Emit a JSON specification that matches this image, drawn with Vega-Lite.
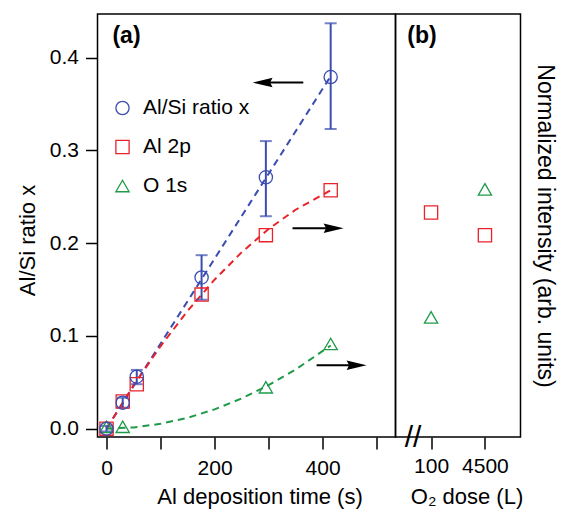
{
  "$schema": "https://vega.github.io/schema/vega-lite/v6.json",
  "padding": {"left": 15.5, "top": 13, "right": 3, "bottom": 5},
  "background": "white",
  "spacing": 0,
  "bounds": "flush",
  "config": {
    "font": "Liberation Sans",
    "view": {"stroke": "black", "strokeWidth": 1.5},
    "axis": {
      "domain": false, "grid": false,
      "tickColor": "black", "tickSize": 12, "tickWidth": 1.5,
      "labelFontSize": 21, "titleFontSize": 22,
      "labelColor": "black", "titleColor": "black",
      "titleFontWeight": "normal"
    }
  },
  "datasets": {
    "fits": [
      {"series": "Al/Si ratio x", "t": 0, "v": 0},
      {"series": "Al/Si ratio x", "t": 415, "v": 0.38},
      {"series": "Al 2p", "t": 0, "v": 0},
      {"series": "Al 2p", "t": 50, "v": 0.0466},
      {"series": "Al 2p", "t": 100, "v": 0.0888},
      {"series": "Al 2p", "t": 150, "v": 0.1268},
      {"series": "Al 2p", "t": 200, "v": 0.1606},
      {"series": "Al 2p", "t": 250, "v": 0.19},
      {"series": "Al 2p", "t": 300, "v": 0.2152},
      {"series": "Al 2p", "t": 350, "v": 0.236},
      {"series": "Al 2p", "t": 415, "v": 0.257},
      {"series": "O 1s", "t": 0, "v": 0},
      {"series": "O 1s", "t": 50, "v": 0.0013},
      {"series": "O 1s", "t": 100, "v": 0.0052},
      {"series": "O 1s", "t": 150, "v": 0.0117},
      {"series": "O 1s", "t": 200, "v": 0.0208},
      {"series": "O 1s", "t": 250, "v": 0.0325},
      {"series": "O 1s", "t": 300, "v": 0.0468},
      {"series": "O 1s", "t": 350, "v": 0.0637},
      {"series": "O 1s", "t": 415, "v": 0.0896}
    ],
    "points": [
      {"series": "O 1s", "t": 0, "v": 0.002},
      {"series": "O 1s", "t": 30, "v": 0.002},
      {"series": "O 1s", "t": 295, "v": 0.0446},
      {"series": "O 1s", "t": 415, "v": 0.0913},
      {"series": "Al 2p", "t": 0, "v": 0.0},
      {"series": "Al 2p", "t": 30, "v": 0.0293},
      {"series": "Al 2p", "t": 56, "v": 0.0479},
      {"series": "Al 2p", "t": 176, "v": 0.1445},
      {"series": "Al 2p", "t": 295, "v": 0.2086},
      {"series": "Al 2p", "t": 415, "v": 0.257},
      {"series": "Al/Si ratio x", "t": 0, "v": 0.0},
      {"series": "Al/Si ratio x", "t": 30, "v": 0.028},
      {"series": "Al/Si ratio x", "t": 56, "v": 0.056},
      {"series": "Al/Si ratio x", "t": 176, "v": 0.163},
      {"series": "Al/Si ratio x", "t": 295, "v": 0.271},
      {"series": "Al/Si ratio x", "t": 415, "v": 0.379}
    ],
    "errors": [
      {"t": 0, "lo": -0.003, "hi": 0.003},
      {"t": 30, "lo": 0.0226, "hi": 0.0334},
      {"t": 56, "lo": 0.0479, "hi": 0.0633},
      {"t": 176, "lo": 0.139, "hi": 0.187},
      {"t": 295, "lo": 0.229, "hi": 0.31},
      {"t": 415, "lo": 0.323, "hi": 0.437}
    ],
    "arrows": [
      {"dir": "left", "t": 288.9, "t2": 364.3, "v": 0.3731},
      {"dir": "right", "t": 420.4, "t2": 344.4, "v": 0.2161},
      {"dir": "right", "t": 463, "t2": 388.9, "v": 0.0684}
    ],
    "panelA": [{"label": "(a)", "t": 37, "v": 0.4234}],
    "doses": [
      {"series": "Al 2p", "dose": "100", "v": 0.233},
      {"series": "Al 2p", "dose": "4500", "v": 0.2085},
      {"series": "O 1s", "dose": "100", "v": 0.12},
      {"series": "O 1s", "dose": "4500", "v": 0.258}
    ],
    "panelB": [{"label": "(b)", "dose": "100", "v": 0.4234}],
    "breakmark": [{"label": "//", "dose": "100", "v": -0.0095}]
  },
  "hconcat": [
    {
      "width": 298,
      "height": 423,
      "encoding": {
        "x": {
          "field": "t", "type": "quantitative",
          "scale": {"domain": [-16.7, 535], "nice": false, "zero": false},
          "axis": {
            "title": "Al deposition time (s)",
            "values": [0, 100, 200, 300, 400, 500],
            "format": "d",
            "labelExpr": "datum.value % 200 === 0 ? datum.label : ''",
            "labelPadding": 8, "titlePadding": 8, "titleX": 162
          }
        },
        "y": {
          "field": "v", "type": "quantitative",
          "scale": {"domain": [-0.009, 0.447], "nice": false, "zero": false},
          "axis": {
            "title": "Al/Si ratio x",
            "values": [0, 0.1, 0.2, 0.3, 0.4],
            "format": ".1f",
            "labelPadding": 7, "titlePadding": 10, "titleY": 226
          }
        }
      },
      "layer": [
        {
          "data": {"name": "fits"},
          "transform": [{"filter": "datum.series === 'Al/Si ratio x'"}],
          "mark": {"type": "line", "strokeDash": [7, 5], "strokeWidth": 2, "color": "#3b4db1"}
        },
        {
          "data": {"name": "fits"},
          "transform": [{"filter": "datum.series === 'Al 2p'"}],
          "mark": {"type": "line", "strokeDash": [7, 5], "strokeWidth": 2, "color": "#e8232a"}
        },
        {
          "data": {"name": "fits"},
          "transform": [{"filter": "datum.series === 'O 1s'"}],
          "mark": {"type": "line", "strokeDash": [7, 5], "strokeWidth": 2, "color": "#1e9a48"}
        },
        {
          "data": {"name": "errors"},
          "mark": {"type": "errorbar", "color": "#3b4db1", "thickness": 2, "ticks": {"size": 12, "thickness": 2}},
          "encoding": {
            "y": {"field": "lo", "type": "quantitative", "title": "Al/Si ratio x"},
            "y2": {"field": "hi"}
          }
        },
        {
          "data": {"name": "points"},
          "mark": {"type": "point", "filled": false, "strokeWidth": 1.3, "opacity": 1},
          "encoding": {
            "color": {
              "field": "series", "type": "nominal",
              "scale": {"domain": ["Al/Si ratio x", "Al 2p", "O 1s"], "range": ["#3b4db1", "#e8232a", "#1e9a48"]},
              "legend": {"orient": "none", "legendX": 14.5, "legendY": 83.5, "title": null, "labelFontSize": 21, "labelColor": "black", "labelOffset": 10, "rowPadding": 17, "symbolStrokeWidth": 1.3}
            },
            "shape": {
              "field": "series", "type": "nominal",
              "scale": {"domain": ["Al/Si ratio x", "Al 2p", "O 1s"], "range": ["circle", "square", "triangle-up"]},
              "legend": {"orient": "none", "legendX": 14.5, "legendY": 83.5, "title": null, "labelFontSize": 21, "labelColor": "black", "labelOffset": 10, "rowPadding": 17, "symbolStrokeWidth": 1.3}
            },
            "size": {
              "field": "series", "type": "nominal",
              "scale": {"domain": ["Al/Si ratio x", "Al 2p", "O 1s"], "range": [175, 175, 230]},
              "legend": {"orient": "none", "legendX": 14.5, "legendY": 83.5, "title": null, "labelFontSize": 21, "labelColor": "black", "labelOffset": 10, "rowPadding": 17, "symbolStrokeWidth": 1.3}
            }
          }
        },
        {
          "data": {"name": "arrows"},
          "mark": {"type": "rule", "color": "black", "strokeWidth": 2},
          "encoding": {
            "x2": {"field": "t2"}
          }
        },
        {
          "data": {"name": "arrows"},
          "transform": [{"filter": "datum.dir === 'left'"}],
          "mark": {"type": "point", "filled": true, "color": "black", "opacity": 1, "size": 400, "shape": "M -1 0 L 1 -0.47 L 0.75 0 L 1 0.47 Z"}
        },
        {
          "data": {"name": "arrows"},
          "transform": [{"filter": "datum.dir === 'right'"}],
          "mark": {"type": "point", "filled": true, "color": "black", "opacity": 1, "size": 400, "shape": "M 1 0 L -1 -0.47 L -0.75 0 L -1 0.47 Z"}
        },
        {
          "data": {"name": "panelA"},
          "mark": {"type": "text", "fontSize": 23, "fontWeight": "bold", "align": "center", "baseline": "middle", "color": "black"},
          "encoding": {
            "text": {"field": "label"}
          }
        }
      ]
    },
    {
      "width": 125,
      "height": 423,
      "encoding": {
        "x": {
          "field": "dose", "type": "ordinal", "sort": ["100", "4500"],
          "scale": {"type": "point", "padding": 0.66},
          "axis": {"title": "O₂ dose (L)", "labelAngle": 0, "labelPadding": 6, "titlePadding": 10, "titleX": 71}
        },
        "y": {
          "field": "v", "type": "quantitative",
          "scale": {"domain": [-0.009, 0.447], "nice": false, "zero": false},
          "axis": {"orient": "right", "title": "Normalized intensity (arb. units)", "labels": false, "ticks": false, "titlePadding": 12, "titleAngle": 90, "titleFontSize": 23}
        }
      },
      "layer": [
        {
          "data": {"name": "doses"},
          "mark": {"type": "point", "filled": false, "strokeWidth": 1.3, "opacity": 1},
          "encoding": {
            "color": {
              "field": "series", "type": "nominal",
              "scale": {"domain": ["Al/Si ratio x", "Al 2p", "O 1s"], "range": ["#3b4db1", "#e8232a", "#1e9a48"]},
              "legend": null
            },
            "shape": {
              "field": "series", "type": "nominal",
              "scale": {"domain": ["Al/Si ratio x", "Al 2p", "O 1s"], "range": ["circle", "square", "triangle-up"]},
              "legend": null
            },
            "size": {
              "field": "series", "type": "nominal",
              "scale": {"domain": ["Al/Si ratio x", "Al 2p", "O 1s"], "range": [175, 175, 230]},
              "legend": null
            }
          }
        },
        {
          "data": {"name": "panelB"},
          "mark": {"type": "text", "fontSize": 23, "fontWeight": "bold", "align": "center", "baseline": "middle", "color": "black", "dx": -9},
          "encoding": {
            "text": {"field": "label"}
          }
        },
        {
          "data": {"name": "breakmark"},
          "mark": {"type": "text", "fontSize": 30, "align": "center", "baseline": "middle", "color": "black", "dx": -18, "dy": 1},
          "encoding": {
            "text": {"field": "label"}
          }
        }
      ]
    }
  ],
  "resolve": {"scale": {"color": "independent", "shape": "independent", "size": "independent"}}
}
